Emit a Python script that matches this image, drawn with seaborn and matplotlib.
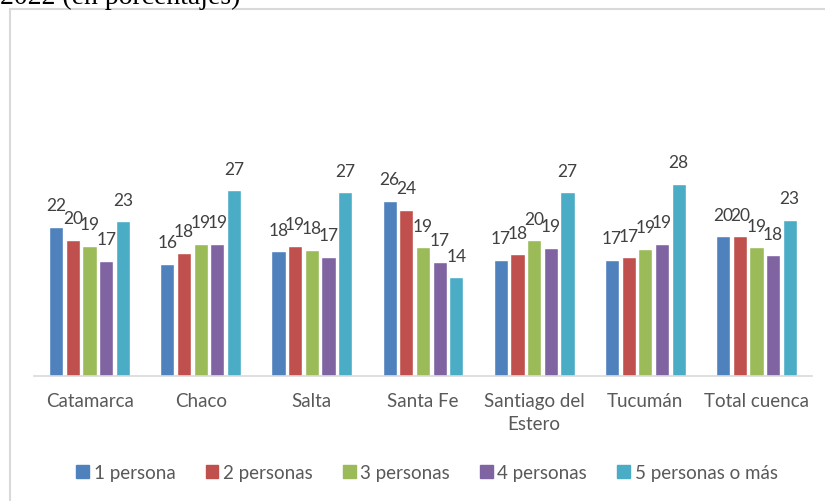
import matplotlib
matplotlib.use('Agg')
import seaborn as sns
import matplotlib.pyplot as plt
import pandas as pd
from matplotlib.patches import Rectangle

# datos del grafico (porcentajes)
regiones = ['Catamarca', 'Chaco', 'Salta', 'Santa Fe', 'Santiago del\nEstero', 'Tucumán', 'Total cuenca']
hogares = ['1 persona', '2 personas', '3 personas', '4 personas', '5 personas o más']
p1 = [21.8, 16.4, 18.2, 25.6, 17.0, 17.0, 20.4]
p2 = [19.9, 18.0, 19.0, 24.3, 17.8, 17.3, 20.4]
p3 = [19.0, 19.3, 18.4, 18.8, 19.8, 18.6, 18.8]
p4 = [16.8, 19.3, 17.4, 16.7, 18.7, 19.3, 17.6]
p5 = [22.6, 27.1, 26.8, 14.4, 26.8, 28.1, 22.8]
colores = ['#4F81BD', '#C0504D', '#9BBB59', '#8064A2', '#4BACC6']

filas = []
for h, vals in zip(hogares, [p1, p2, p3, p4, p5]):
    for r, v in zip(regiones, vals):
        filas.append({'region': r, 'hogar': h, 'valor': v})
df = pd.DataFrame(filas)

sns.set_style('white')
plt.rcParams['font.family'] = ['Lato', 'DejaVu Sans']

fig = plt.figure(figsize=(8.25, 5.01), dpi=100)
ax = fig.add_axes([34/825, 1-376/501, (812-34)/825, (376-33.5)/501])

sns.barplot(data=df, x='region', y='valor', hue='hogar', palette=colores,
            width=0.75, gap=0.15, ax=ax, legend=False, saturation=1)

for c in ax.containers:
    ax.bar_label(c, fmt='%.0f', padding=9, fontsize=12.5, color='#404040')

ax.set_ylim(0, 50)
ax.set_xlim(-0.5, 6.5)
ax.set_xlabel('')
ax.set_ylabel('')
ax.set_yticks([])
ax.tick_params(axis='x', length=0, pad=12, labelsize=13.5, labelcolor='#595959')
for lbl in ax.get_xticklabels():
    lbl.set_linespacing(1.45)
for s in ['top', 'right', 'left']:
    ax.spines[s].set_visible(False)
ax.spines['bottom'].set_color('#d9d9d9')
ax.spines['bottom'].set_linewidth(1.2)

# leyenda
handles = [Rectangle((0, 0), 1, 1, color=c) for c in colores]
fig.legend(handles, hogares, loc='center', bbox_to_anchor=(427/825, 1-473/501),
           ncol=5, frameon=False, fontsize=13.5, labelcolor='#595959',
           handlelength=0.68, handleheight=0.68, handletextpad=0.25, columnspacing=1.6)

# marco del area del grafico
fig.patches.append(Rectangle((10/825, -0.1), 1.0, 1-9/501+0.1, transform=fig.transFigure,
                             fill=False, edgecolor='#d9d9d9', linewidth=1.5))

# titulo cortado arriba
fig.text(0.0, 1-3.5/501, '2022 (en porcentajes)', fontsize=20, family=['Liberation Serif'],
         ha='left', va='baseline', color='black')

fig.savefig('out.png', dpi=100)
